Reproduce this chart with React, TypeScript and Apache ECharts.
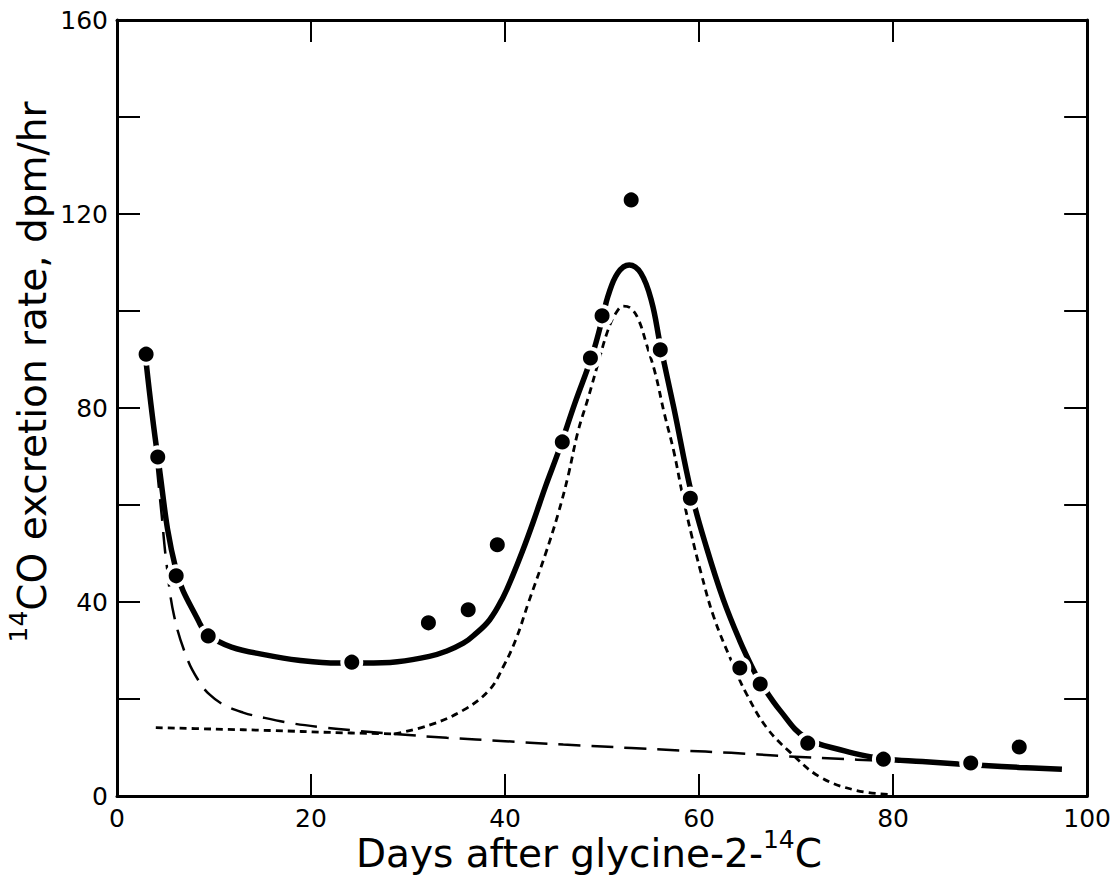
import React, { useEffect, useRef } from "react";
import * as echarts from "echarts";

// Measured data points (days, dpm/hr)
const pointsX = [3, 4.2, 6.1, 9.4, 24.2, 32.1, 36.2, 39.2, 45.9, 48.8, 50.0, 53.0, 56.0, 59.1, 64.2, 66.3, 71.2, 79.0, 88.0, 93.0];
const pointsY = [91.1, 69.9, 45.4, 33.0, 27.6, 35.7, 38.4, 51.8, 73.0, 90.3, 99.0, 122.9, 92.0, 61.4, 26.4, 23.1, 10.9, 7.6, 6.8, 10.1];

// Thick fitted curve (total)
const mainX = [3, 4.2, 6.1, 8.5, 9.4, 11.8, 15.3, 18.7, 22.8, 25.5, 28.9, 32.2, 34, 35.7, 36.7, 38.4, 39.8, 40.8, 41.8, 42.9, 44.2, 45.5, 47.2, 49, 50.1, 50.6, 51.6, 52.8, 54, 55.1, 56, 57.4, 59.2, 60.8, 62.5, 64.2, 65.6, 66.3, 68.4, 71, 75, 77.9, 79.2, 83, 86.7, 89.4, 93, 97.4];
const mainY = [89.5, 70, 46.5, 35.7, 33.2, 30.7, 29.1, 28, 27.4, 27.4, 27.7, 28.8, 29.9, 31.5, 33, 36.3, 41, 45.5, 50.5, 56.5, 64, 71, 81, 91, 99, 103, 107.8, 109.5, 107.8, 102, 93, 80, 62.5, 51, 40.5, 32, 26, 23.5, 17.5, 12, 9.3, 8, 7.6, 7.1, 6.6, 6.3, 5.9, 5.5];

// Long-dashed curve (fast + slow components, then slow tail)
const longX = [4.1, 4.6, 5.1, 5.9, 7.3, 8.5, 9.5, 11, 13, 15, 18, 21, 25, 28.6, 34, 40, 46, 53, 58, 63.3, 69, 75, 79];
const longY = [68, 58, 48, 37, 28, 23.5, 21, 18.8, 17.2, 16.2, 15.0, 14.2, 13.4, 12.8, 12.0, 11.3, 10.6, 9.9, 9.4, 8.9, 8.2, 7.6, 7.3];

// Short-dashed slow component extrapolation
const slowX = [4, 10, 16, 22, 28.6];
const slowY = [14.1, 13.8, 13.5, 13.1, 12.8];

// Short-dashed peak component
const peakX = [28.6, 32.2, 35.7, 38.4, 39.8, 41.1, 42.4, 44.2, 45.5, 46.5, 47.5, 48.6, 49.6, 50.6, 51.4, 52.2, 53.0, 53.8, 54.6, 55.5, 56.4, 57.4, 58.3, 59.2, 60.2, 61.5, 63.3, 64.9, 67, 69.4, 72.4, 76.1, 79.6];
const peakY = [12.8, 14.6, 17.7, 21.9, 26.6, 32.2, 39.8, 50.1, 58.4, 66, 75, 82.3, 89.3, 96, 99.5, 101, 100.5, 98, 93, 87, 79, 71, 62, 54, 46, 37, 28, 21, 14, 9, 4, 1.2, 0.3];

const xLabelTicks = [0, 20, 40, 60, 80, 100];
const yLabelTicks = [0, 40, 80, 120, 160];

const pair = (xs: number[], ys: number[]) => xs.map((x, i) => [x, ys[i]]);

const FONT = "DejaVu Sans";

export default function App() {
  const ref = useRef<HTMLDivElement>(null);
  useEffect(() => {
    if (!ref.current) return;
    const chart = echarts.init(ref.current, null, { renderer: "svg" });
    const axisLine = { show: true, onZero: false, lineStyle: { color: "#000", width: 3 } };
    const xTick = { show: true, inside: true, length: 22, lineStyle: { color: "#000", width: 2 } };
    const yTick = { show: true, inside: true, length: 23, lineStyle: { color: "#000", width: 2 } };
    const rich = {
      n: { fontFamily: FONT, fontSize: 39, fill: "#000", lineHeight: 46, verticalAlign: "bottom" },
      s: { fontFamily: FONT, fontSize: 25, fill: "#000", lineHeight: 25, verticalAlign: "top" },
    };
    chart.setOption({
      animation: false,
      backgroundColor: "#fff",
      grid: { left: 117, right: 17, top: 20, bottom: 83, containLabel: false },
      xAxis: [
        {
          type: "value", min: 0, max: 100, interval: 20, position: "bottom",
          axisLine, axisTick: xTick, splitLine: { show: false },
          axisLabel: {
            color: "#000", fontFamily: FONT, fontSize: 25, margin: 10,
            formatter: (v: number) => (xLabelTicks.includes(v) ? String(v) : ""),
          },
        },
        {
          type: "value", min: 0, max: 100, interval: 20, position: "top",
          axisLine, axisTick: xTick, splitLine: { show: false }, axisLabel: { show: false },
        },
      ],
      yAxis: [
        {
          type: "value", min: 0, max: 160, interval: 20, position: "left",
          axisLine, axisTick: yTick, splitLine: { show: false },
          axisLabel: {
            color: "#000", fontFamily: FONT, fontSize: 25, margin: 9,
            formatter: (v: number) => (yLabelTicks.includes(v) ? String(v) : ""),
          },
        },
        {
          type: "value", min: 0, max: 160, interval: 20, position: "right",
          axisLine, axisTick: yTick, splitLine: { show: false }, axisLabel: { show: false },
        },
      ],
      graphic: [
        {
          type: "text",
          x: 589, y: 850,
          style: {
            text: "{n|Days after glycine-2-}{s|14}{n|C}",
            align: "center", verticalAlign: "middle",
            rich,
          },
        },
        {
          type: "text",
          x: 29, y: 372, rotation: Math.PI / 2,
          style: {
            text: "{s|14}{n|CO excretion rate, dpm/hr}",
            align: "center", verticalAlign: "middle",
            rich,
          },
        },
      ],
      series: [
        {
          type: "line", name: "slow", data: pair(slowX, slowY), showSymbol: false, smooth: 0.4,
          lineStyle: { color: "#000", width: 2.8, type: [7, 5] }, z: 2,
        },
        {
          type: "line", name: "fast+slow", data: pair(longX, longY), showSymbol: false, smooth: 0.4,
          lineStyle: { color: "#000", width: 2.5, type: [22, 11] }, z: 2,
        },
        {
          type: "line", name: "peak", data: pair(peakX, peakY), showSymbol: false, smooth: 0.4,
          lineStyle: { color: "#000", width: 2.8, type: [7, 5] }, z: 2,
        },
        {
          type: "line", name: "total", data: pair(mainX, mainY), showSymbol: false, smooth: 0.4,
          lineStyle: { color: "#000", width: 5.5 }, z: 3,
        },
        {
          type: "scatter", name: "observed", data: pair(pointsX, pointsY), symbol: "circle", symbolSize: 19,
          itemStyle: { color: "#000", opacity: 1, borderColor: "#fff", borderWidth: 4 }, z: 5,
        },
      ],
    });
    return () => chart.dispose();
  }, []);
  return (
    <div
      ref={ref}
      style={{ position: "fixed", left: 0, top: 0, width: 1114, height: 879, background: "#fff" }}
    />
  );
}
